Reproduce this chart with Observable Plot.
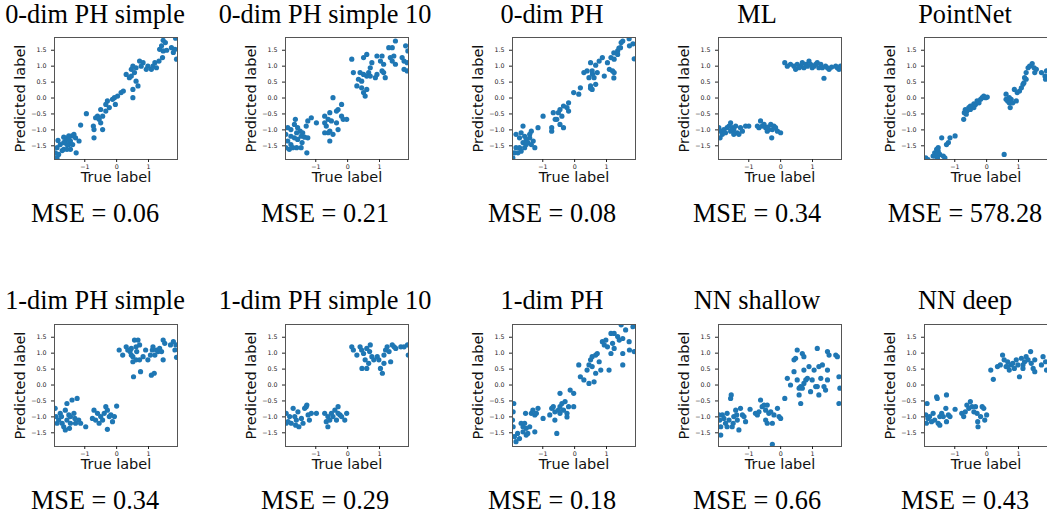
<!DOCTYPE html>
<html><head><meta charset="utf-8">
<script src="https://cdn.jsdelivr.net/npm/d3@7"></script>
<script src="https://cdn.jsdelivr.net/npm/@observablehq/plot@0.6"></script>
<style>
body{margin:0;background:#fff;}
#fig{position:relative;width:1047px;height:518px;overflow:hidden;background:#fff;}
.cap{position:absolute;font-family:"Liberation Serif","Times New Roman",serif;font-size:26.3px;line-height:0.85;white-space:nowrap;transform:translateX(-50%);color:#000;overflow:visible;}
.panel{position:absolute;}
.panel svg{max-width:none !important;}
</style></head><body><div id="fig"></div><script>
const titles = ["0-dim PH simple","0-dim PH simple 10","0-dim PH","ML","PointNet","1-dim PH simple","1-dim PH simple 10","1-dim PH","NN shallow","NN deep"];
const mseValues = ["0.06","0.21","0.08","0.34","578.28","0.34","0.29","0.18","0.66","0.43"];
const xTicks = [-1, 0, 1];
const yTicks = [-1.5, -1.0, -0.5, 0.0, 0.5, 1.0, 1.5];

const ph0Simple = [[1.46,1.81],[1.53,1.74],[1.85,1.88],[1.41,1.64],[1.35,1.53],[1.46,1.48],[1.57,1.5],[1.72,1.58],[1.83,1.53],[1.78,1.43],[1.88,1.22],[1.44,1.27],[1.33,1.16],[1.2,1.11],[1.14,1.0],[1.25,0.95],[1.09,0.9],[0.98,1.0],[0.93,0.9],[0.83,1.11],[0.72,1.16],[0.77,1.0],[0.61,0.95],[0.51,1.0],[0.46,0.9],[0.56,0.8],[0.3,0.74],[0.4,0.64],[0.46,0.69],[0.61,0.53],[0.51,0.27],[0.67,0.38],[0.51,0.01],[0.21,0.22],[0.14,0.17],[0.03,0.06],[-0.07,0.01],[-0.13,-0.04],[-0.04,-0.2],[-0.29,-0.09],[-0.34,-0.2],[-0.23,-0.3],[-0.5,-0.36],[-0.44,-0.57],[-0.6,-0.57],[-0.66,-0.62],[-0.55,-0.67],[-0.95,-0.49],[-1.13,-0.85],[-0.73,-0.88],[-0.71,-0.99],[-0.44,-0.99],[-0.71,-1.25],[-0.5,-0.78],[-0.34,-0.41],[-1.87,-1.88],[-1.92,-1.72],[-1.87,-1.56],[-1.84,-1.33],[-1.77,-1.46],[-1.66,-1.61],[-1.66,-1.23],[-1.56,-1.25],[-1.61,-1.35],[-1.5,-1.19],[-1.45,-1.35],[-1.5,-1.46],[-1.56,-1.46],[-1.4,-1.19],[-1.34,-1.14],[-1.29,-1.25],[-1.18,-1.35],[-1.27,-1.72],[-1.45,-1.61],[-1.56,-1.61],[-1.71,-1.65],[-1.82,-1.77],[-1.93,-1.88],[-1.38,-1.46],[-1.66,-1.4],[-1.5,-1.3]];

const ph0Simple10 = [[1.5,1.79],[1.4,1.58],[1.29,1.58],[1.82,1.64],[1.89,1.48],[1.71,1.27],[1.45,1.32],[1.34,1.27],[1.08,1.32],[0.92,1.32],[0.6,1.37],[0.5,1.27],[1.03,1.16],[1.13,1.06],[1.4,1.16],[1.5,1.06],[1.77,1.16],[1.87,1.11],[1.87,0.85],[1.77,0.9],[1.13,0.8],[1.18,0.64],[1.08,0.85],[0.76,1.11],[0.71,0.95],[0.66,0.8],[0.6,0.69],[0.5,0.74],[0.39,0.8],[0.34,0.59],[0.29,0.38],[0.44,0.32],[0.5,0.17],[0.55,0.06],[0.6,0.27],[0.87,0.64],[0.92,0.74],[0.13,1.22],[0.18,0.8],[0.44,0.53],[0.71,0.69],[-0.46,0.01],[-0.19,-0.2],[-0.3,-0.36],[-0.35,-0.41],[-0.56,-0.46],[-0.72,-0.57],[-0.61,-0.67],[-0.51,-0.72],[-0.35,-0.78],[-0.19,-0.57],[-0.14,-0.67],[-0.03,-0.67],[-0.3,-0.99],[-0.56,-1.04],[-0.46,-1.14],[-0.61,-1.09],[-0.72,-1.09],[-0.67,-0.88],[-0.72,-0.78],[-0.56,-1.35],[-0.98,-0.78],[-1.14,-0.62],[-1.25,-0.72],[-1.3,-0.88],[-1.64,-0.67],[-1.67,-0.83],[-1.57,-0.93],[-1.49,-1.04],[-1.6,-1.09],[-1.78,-0.99],[-1.88,-0.93],[-1.94,-1.14],[-1.78,-1.2],[-1.67,-1.25],[-1.57,-1.3],[-1.46,-1.2],[-1.35,-1.23],[-1.25,-1.25],[-1.43,-1.4],[-1.6,-1.56],[-1.78,-1.46],[-1.88,-1.35],[-1.94,-1.56],[-1.83,-1.61],[-1.28,-1.72],[-1.46,-1.56],[-1.72,-1.56],[-1.41,-1.09]];

const ph0 = [[1.46,1.74],[1.51,1.79],[1.35,1.48],[1.44,1.58],[1.72,1.64],[1.71,1.86],[1.83,1.7],[1.87,1.23],[1.39,1.57],[1.23,1.42],[1.23,0.63],[0.56,0.75],[0.5,0.31],[0.87,1.27],[0.77,1.16],[0.66,1.03],[0.5,1.11],[0.55,0.85],[0.39,0.85],[0.29,0.8],[0.45,0.64],[0.61,0.64],[0.71,0.8],[0.93,0.69],[1.09,0.9],[1.19,0.85],[1.24,0.8],[1.03,1.11],[1.14,1.27],[1.24,1.22],[1.35,1.37],[0.5,0.38],[0.55,0.27],[0.66,0.43],[0.18,0.32],[-0.03,0.17],[0.13,0.12],[-0.19,-0.15],[-0.24,-0.3],[-0.35,-0.25],[-0.19,-0.41],[-0.46,-0.36],[-0.51,-0.46],[-0.56,-0.67],[-0.67,-0.46],[-0.61,-0.67],[-0.4,-0.57],[-0.46,-0.83],[-0.35,-0.93],[-0.72,-0.93],[-0.72,-1.04],[-0.99,-0.57],[-1.15,-0.93],[-1.36,-1.04],[-1.41,-1.14],[-1.62,-0.88],[-1.68,-1.09],[-1.84,-1.14],[-1.73,-1.25],[-1.57,-1.2],[-1.52,-1.3],[-1.47,-1.4],[-1.62,-1.4],[-1.3,-1.35],[-1.25,-1.56],[-1.36,-1.46],[-1.57,-1.56],[-1.73,-1.56],[-1.84,-1.56],[-1.89,-1.72],[-1.94,-1.88],[-1.78,-1.72],[-1.68,-1.67],[-1.52,-1.46],[-1.41,-1.25]];

const ml = [[-1.94,-0.93],[-1.88,-1.04],[-1.9,-1.25],[-1.83,-1.14],[-1.78,-0.99],[-1.68,-0.93],[-1.62,-0.88],[-1.57,-1.04],[-1.57,-0.78],[-1.52,-0.93],[-1.47,-0.99],[-1.41,-0.88],[-1.36,-1.09],[-1.31,-1.14],[-1.26,-0.93],[-1.2,-1.04],[-1.1,-0.88],[-1.0,-0.88],[-1.73,-1.09],[-1.47,-1.14],[-0.73,-0.88],[-0.68,-0.93],[-0.63,-0.72],[-0.58,-0.88],[-0.52,-0.83],[-0.47,-0.93],[-0.42,-1.04],[-0.37,-0.99],[-0.31,-0.83],[-0.26,-0.99],[-0.21,-0.88],[-0.16,-0.93],[-0.1,-1.04],[0.0,-1.09],[-0.28,-1.25],[-0.4,-0.91],[0.13,1.11],[0.21,1.0],[0.31,1.06],[0.42,1.0],[0.47,0.9],[0.52,1.06],[0.63,1.0],[0.68,1.11],[0.73,0.95],[0.79,1.06],[0.84,1.0],[0.89,1.16],[0.94,1.06],[0.99,0.95],[1.05,1.0],[1.1,1.06],[1.15,1.11],[1.2,0.95],[1.26,1.06],[1.31,0.95],[1.36,0.62],[1.41,1.0],[1.47,0.95],[1.52,0.9],[1.78,0.95],[1.83,0.9],[1.88,1.0],[0.58,0.95],[1.73,1.0],[1.6,0.97]];

const pointNet = [[-1.91,-1.88],[-1.84,-1.93],[-1.68,-1.82],[-1.63,-1.72],[-1.57,-1.61],[-1.52,-1.67],[-1.63,-1.82],[-1.47,-1.77],[-1.57,-1.77],[-1.54,-1.88],[-1.41,-1.25],[-1.36,-1.82],[-1.31,-1.88],[-1.52,-1.56],[-1.26,-1.46],[-1.2,-1.4],[-1.15,-1.25],[-0.99,-1.19],[-0.72,-0.67],[-0.7,-0.46],[-0.67,-0.36],[-0.62,-0.41],[-0.56,-0.3],[-0.51,-0.36],[-0.46,-0.25],[-0.4,-0.3],[-0.35,-0.2],[-0.3,-0.09],[-0.24,-0.15],[-0.19,-0.04],[-0.14,0.01],[-0.09,0.06],[-0.03,0.01],[0.02,0.03],[-0.64,-0.51],[-0.4,-0.18],[-0.51,-0.25],[0.55,-1.77],[0.61,0.12],[0.61,-0.04],[0.66,-0.09],[0.71,-0.15],[0.77,-0.04],[0.74,-0.3],[0.71,0.01],[0.82,-0.15],[0.87,0.27],[0.96,0.17],[0.93,-0.09],[1.03,0.22],[1.09,0.32],[1.14,0.43],[1.19,0.64],[1.24,0.8],[1.3,0.95],[1.35,1.0],[1.43,1.08],[1.49,0.95],[1.56,0.9],[1.51,0.8],[1.24,0.59],[1.72,0.8],[1.83,0.69],[1.88,0.85],[1.85,0.59],[1.17,0.48]];

const ph1Simple = [[0.08,1.1],[0.19,0.94],[0.3,1.2],[0.35,1.1],[0.42,1.05],[0.46,0.94],[0.51,0.89],[0.56,1.41],[0.67,1.41],[0.61,1.2],[0.63,1.05],[0.72,1.26],[0.51,0.73],[0.61,0.79],[0.72,0.79],[0.75,0.42],[0.83,0.89],[0.91,1.1],[0.98,0.79],[1.06,0.94],[1.12,1.1],[1.14,1.2],[1.2,0.94],[1.09,0.31],[1.18,0.37],[1.25,1.1],[1.3,1.05],[1.35,1.15],[1.41,1.05],[1.46,1.41],[1.46,0.79],[1.51,1.31],[1.69,1.26],[1.78,1.36],[1.86,1.26],[1.83,1.1],[1.88,0.87],[0.53,0.26],[0.46,1.15],[-1.93,-0.73],[-1.9,-0.99],[-1.87,-1.2],[-1.82,-1.1],[-1.77,-0.89],[-1.71,-1.2],[-1.66,-1.31],[-1.61,-0.79],[-1.56,-0.58],[-1.56,-1.1],[-1.5,-0.94],[-1.48,-1.36],[-1.4,-0.47],[-1.45,-0.99],[-1.34,-0.89],[-1.29,-1.2],[-1.24,-0.42],[-1.19,-1.1],[-1.13,-1.2],[-0.97,-1.31],[-1.61,-1.41],[-1.73,-0.99],[-1.45,-1.2],[-1.31,-1.05],[-0.71,-0.79],[-0.66,-1.1],[-0.6,-0.89],[-0.55,-1.2],[-0.5,-0.99],[-0.39,-0.89],[-0.34,-0.68],[-0.29,-0.79],[-0.23,-0.99],[-0.29,-1.39],[-0.18,-0.94],[-0.07,-0.99],[-0.13,-1.15],[0.0,-0.66],[-0.44,-1.1],[-0.76,-1.05]];

const ph1Simple10 = [[0.13,1.2],[0.18,1.1],[0.29,0.94],[0.39,1.2],[0.44,1.1],[0.5,0.99],[0.55,0.79],[0.45,0.52],[0.6,0.52],[0.66,0.68],[0.71,1.26],[0.76,0.89],[0.82,0.79],[0.69,1.05],[0.6,1.15],[0.93,0.89],[0.98,0.79],[1.03,0.52],[1.09,0.37],[1.14,0.68],[1.19,1.1],[1.3,1.05],[1.35,0.73],[1.4,1.26],[1.46,1.2],[1.51,1.15],[1.67,1.2],[1.77,1.2],[1.88,1.26],[1.9,0.94],[1.14,0.94],[1.24,1.2],[-1.93,-0.89],[-1.93,-1.2],[-1.87,-1.15],[-1.82,-0.99],[-1.71,-0.73],[-1.66,-0.99],[-1.61,-1.1],[-1.56,-0.84],[-1.53,-1.31],[-1.45,-1.05],[-1.4,-1.2],[-1.35,-0.73],[-1.3,-0.68],[-1.28,-0.63],[-1.24,-0.94],[-1.2,-1.1],[-1.14,-0.89],[-0.98,-0.89],[-1.77,-1.2],[-1.63,-1.26],[-0.72,-0.89],[-0.67,-1.15],[-0.62,-1.31],[-0.62,-0.99],[-0.51,-0.89],[-0.46,-0.99],[-0.4,-0.79],[-0.35,-1.1],[-0.3,-0.68],[-0.24,-0.94],[-0.19,-0.99],[-0.09,-1.1],[-0.03,-0.89],[-0.3,-0.89],[-0.56,-1.1]];

const ph1 = [[-1.91,-0.58],[-1.93,-0.84],[-1.95,-1.1],[-1.93,-1.31],[-1.89,-1.62],[-1.84,-1.78],[-1.79,-1.52],[-1.73,-1.68],[-1.68,-1.2],[-1.62,-1.31],[-1.57,-1.2],[-1.52,-1.36],[-1.47,-1.52],[-1.54,-0.89],[-1.41,-1.31],[-1.36,-0.89],[-1.31,-0.79],[-1.25,-0.94],[-1.2,-0.89],[-1.25,-1.47],[-1.15,-0.73],[-1.62,-1.47],[-1.52,-1.57],[-0.99,-1.05],[-0.78,-0.94],[-0.72,-0.73],[-0.67,-0.68],[-0.62,-0.84],[-0.62,-1.1],[-0.56,-1.52],[-0.51,-0.79],[-0.46,-0.68],[-0.46,-0.89],[-0.4,-0.58],[-0.35,-0.79],[-0.24,-0.89],[-0.3,-0.52],[-0.24,-1.0],[-0.19,-0.68],[-0.46,-0.26],[-0.14,-0.16],[-0.03,-0.26],[-0.03,-0.68],[0.13,0.63],[0.18,0.26],[0.29,0.16],[0.45,0.05],[0.39,0.47],[0.45,0.63],[0.5,0.79],[0.55,0.89],[0.55,0.58],[0.61,0.1],[0.66,0.37],[0.66,0.94],[0.71,0.99],[0.77,0.73],[0.82,0.47],[0.87,1.36],[0.93,1.26],[0.98,1.41],[1.03,1.2],[1.08,0.47],[1.14,0.99],[1.19,1.31],[1.24,1.15],[1.14,1.62],[1.24,1.62],[1.35,1.52],[1.4,1.41],[1.46,1.89],[1.51,1.46],[1.51,0.99],[1.51,0.63],[1.72,1.1],[1.6,1.73],[1.83,1.83],[1.71,1.36],[1.87,1.05]];

const nnShallow = [[-1.94,-0.94],[-1.91,-1.1],[-1.88,-1.31],[-1.88,-1.57],[-1.83,-0.94],[-1.78,-1.05],[-1.73,-1.2],[-1.68,-1.31],[-1.68,-0.89],[-1.62,-1.1],[-1.57,-0.42],[-1.55,-0.31],[-1.52,-1.31],[-1.49,-1.2],[-1.47,-0.99],[-1.41,-0.79],[-1.38,-0.94],[-1.36,-1.1],[-1.31,-1.41],[-1.26,-0.73],[-1.2,-0.94],[-1.15,-0.99],[-1.1,-1.15],[-0.96,-0.76],[-0.79,-0.89],[-0.73,-0.94],[-0.68,-0.84],[-0.63,-0.47],[-0.58,-0.68],[-0.52,-0.63],[-0.47,-0.79],[-0.47,-1.1],[-0.42,-1.2],[-0.42,-0.63],[-0.37,-0.89],[-0.31,-0.84],[-0.26,-1.2],[-0.26,-1.86],[-0.21,-0.94],[-0.1,-0.73],[-0.05,-0.99],[0.0,-1.05],[0.13,-0.42],[0.21,0.21],[0.31,0.0],[0.42,0.42],[0.42,0.79],[0.47,0.84],[0.52,1.1],[0.52,0.16],[0.58,-0.1],[0.58,-0.31],[0.63,-0.58],[0.63,-0.05],[0.68,0.99],[0.68,-0.1],[0.73,0.89],[0.73,0.47],[0.73,0.05],[0.79,0.16],[0.84,0.21],[0.89,0.58],[0.94,-0.21],[0.99,0.16],[1.05,0.47],[1.1,-0.05],[1.15,1.15],[1.15,-0.05],[1.2,-0.31],[1.2,0.58],[1.26,0.21],[1.31,0.63],[1.36,-0.05],[1.41,-0.16],[1.47,1.05],[1.47,0.47],[1.52,0.94],[1.47,0.16],[1.78,0.89],[1.83,0.26],[1.86,-0.1],[1.83,-0.58],[1.73,0.94]];

const nnDeep = [[-1.91,-0.94],[-1.89,-1.2],[-1.87,-0.58],[-1.84,-1.05],[-1.79,-0.99],[-1.73,-1.15],[-1.68,-0.89],[-1.63,-1.1],[-1.57,-0.37],[-1.55,-0.42],[-1.52,-1.2],[-1.47,-0.99],[-1.47,-1.26],[-1.41,-0.89],[-1.36,-0.99],[-1.28,-0.73],[-1.26,-0.31],[-1.26,-1.15],[-1.2,-0.94],[-1.15,-0.99],[-0.99,-0.76],[-0.78,-0.89],[-0.72,-0.99],[-0.67,-0.84],[-0.62,-0.63],[-0.56,-0.73],[-0.51,-0.52],[-0.46,-0.68],[-0.4,-0.84],[-0.35,-0.68],[-0.3,-0.89],[-0.28,-1.15],[-0.27,-1.31],[-0.19,-0.99],[-0.14,-0.68],[-0.09,-0.73],[-0.06,-1.1],[0.0,-0.94],[0.13,0.47],[0.21,0.18],[0.34,0.58],[0.43,0.63],[0.5,0.94],[0.55,0.79],[0.61,0.58],[0.66,0.73],[0.71,0.47],[0.77,0.63],[0.82,0.68],[0.87,0.52],[0.93,0.79],[0.98,0.63],[1.03,0.26],[1.09,0.84],[1.14,0.63],[1.19,0.73],[1.24,0.89],[1.3,0.79],[1.38,1.05],[1.4,0.68],[1.46,0.52],[1.51,0.42],[1.51,0.79],[1.72,0.63],[1.77,0.89],[1.85,0.73],[1.88,0.47],[0.66,0.58],[1.14,0.52]];

const panelData = [ph0Simple, ph0Simple10, ph0, ml, pointNet, ph1Simple, ph1Simple10, ph1, nnShallow, nnDeep];

// layout (pixels)
const frameLefts = [54, 285, 512, 718, 924];
const frameTops = [36.5, 324];
const centers = [95, 325, 552, 757, 965];
const titleTops = [4, 290];
const mseTops = [203, 490];
const FW = 123, FH = 122;
const ML = 54, MT = 6, MR = 8, MB = 40;

const fig = document.getElementById("fig");
const sans = "DejaVu Sans, sans-serif";

panelData.forEach((pts, i) => {
  const row = Math.floor(i / 5), col = i % 5;
  const W = ML + FW + MR, H = MT + FH + MB;
  const plot = Plot.plot({
    width: W, height: H,
    marginLeft: ML, marginTop: MT, marginRight: MR, marginBottom: MB,
    style: {background: "transparent", fontFamily: sans, color: "#222", overflow: "visible"},
    x: {domain: [-1.95, 1.91], label: null},
    y: {domain: [-1.93, 1.9], label: null},
    marks: [
      Plot.dot(pts, {x: d => d[0], y: d => d[1], r: 2.6, fill: "#1f77b4", clip: true}),
      Plot.frame({stroke: "#555", strokeWidth: 1}),
      Plot.axisX({ticks: xTicks, tickFormat: d3.format("d"), tickSize: 3, tickPadding: 2, fontSize: 6.3, label: null}),
      Plot.axisY({ticks: yTicks, tickFormat: d3.format(".1f"), tickSize: 3, tickPadding: 5, fontSize: 6.3, label: null}),
      Plot.text(["True label"], {text: d => d, frameAnchor: "bottom", textAnchor: "middle", dy: 22, fontSize: 14.5, fill: "#111"}),
      Plot.text(["Predicted label"], {text: d => d, frameAnchor: "left", textAnchor: "middle", dx: -34, rotate: -90, fontSize: 14.5, fill: "#111"})
    ]
  });
  const wrap = document.createElement("div");
  wrap.className = "panel";
  wrap.style.left = (frameLefts[col] - ML) + "px";
  wrap.style.top = (frameTops[row] - MT) + "px";
  wrap.style.width = W + "px";
  wrap.style.height = H + "px";
  wrap.appendChild(plot);
  fig.appendChild(wrap);

  const t = document.createElement("div");
  t.className = "cap";
  t.style.left = centers[col] + "px";
  t.style.top = titleTops[row] + "px";
  t.textContent = titles[i];
  fig.appendChild(t);

  const m = document.createElement("div");
  m.className = "cap";
  m.style.left = centers[col] + "px";
  m.style.top = mseTops[row] + "px";
  m.textContent = "MSE = " + mseValues[i];
  fig.appendChild(m);
});
</script></body></html>
